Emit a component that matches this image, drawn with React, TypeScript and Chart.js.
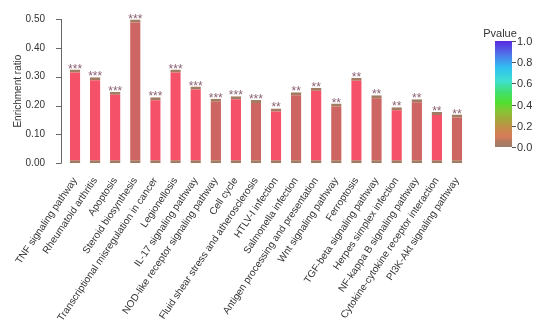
import React, { useEffect, useRef } from "react";
import { Chart, registerables } from "chart.js";
Chart.register(...registerables);

const categories = [
  "TNF signaling pathway",
  "Rheumatoid arthritis",
  "Apoptosis",
  "Steroid biosynthesis",
  "Transcriptional misregulation in cancer",
  "Legionellosis",
  "IL-17 signaling pathway",
  "NOD-like receptor signaling pathway",
  "Cell cycle",
  "Fluid shear stress and atherosclerosis",
  "HTLV-I infection",
  "Salmonella infection",
  "Antigen processing and presentation",
  "Wnt signaling pathway",
  "Ferroptosis",
  "TGF-beta signaling pathway",
  "Herpes simplex infection",
  "NF-kappa B signaling pathway",
  "Cytokine-cytokine receptor interaction",
  "PI3K-Akt signaling pathway",
];

const enrichmentRatio = [
  0.325, 0.298, 0.248, 0.498, 0.229, 0.325, 0.266, 0.224, 0.232, 0.219,
  0.19, 0.246, 0.262, 0.207, 0.296, 0.236, 0.194, 0.222, 0.178, 0.169,
];

const significance = [
  "***", "***", "***", "***", "***", "***", "***", "***", "***", "***",
  "**", "**", "**", "**", "**", "**", "**", "**", "**", "**",
];

const pvalueTicks = [0, 0.2, 0.4, 0.6, 0.8, 1.0];

const BRIGHT = "#F5526A";
const MUTED = "#CD6662";
const barFill = [
  BRIGHT, BRIGHT, BRIGHT, MUTED, BRIGHT, BRIGHT, BRIGHT, MUTED, BRIGHT, MUTED,
  BRIGHT, MUTED, BRIGHT, MUTED, BRIGHT, MUTED, BRIGHT, MUTED, BRIGHT, MUTED,
];

const FONT = "'Liberation Sans', Arial, sans-serif";
const AXIS_X = 61;

const starsPlugin = {
  id: "stars",
  afterDatasetsDraw(chart: any) {
    const ctx = chart.ctx;
    const meta = chart.getDatasetMeta(0);
    ctx.save();
    ctx.font = `12px ${FONT}`;
    ctx.fillStyle = "#8a5f72";
    ctx.textAlign = "center";
    ctx.textBaseline = "alphabetic";
    meta.data.forEach((bar: any, i: number) => {
      ctx.fillText(significance[i], bar.x, bar.y + 3);
    });
    ctx.restore();
  },
};

const yAxisLinePlugin = {
  id: "yAxisLine",
  afterDraw(chart: any) {
    const ctx = chart.ctx;
    const y = chart.scales.y;
    ctx.save();
    ctx.strokeStyle = "#666";
    ctx.lineWidth = 1;
    ctx.beginPath();
    ctx.moveTo(AXIS_X + 0.5, y.getPixelForValue(y.max));
    ctx.lineTo(AXIS_X + 0.5, y.getPixelForValue(y.min));
    y.ticks.forEach((t: any) => {
      const py = Math.round(y.getPixelForValue(t.value)) + 0.5;
      ctx.moveTo(AXIS_X - 5, py);
      ctx.lineTo(AXIS_X + 0.5, py);
    });
    ctx.stroke();
    ctx.restore();
  },
};

const legendPlugin = {
  id: "pvalueLegend",
  afterDraw(chart: any) {
    const ctx = chart.ctx;
    const x0 = 495;
    const w = 17;
    const yTop = 41;
    const yBot = 147;
    ctx.save();
    const g = ctx.createLinearGradient(0, yBot, 0, yTop);
    g.addColorStop(0.0, "#9C7C68");
    g.addColorStop(0.05, "#B07A60");
    g.addColorStop(0.1, "#D87A58");
    g.addColorStop(0.18, "#C48C48");
    g.addColorStop(0.25, "#A8A43C");
    g.addColorStop(0.35, "#80C834");
    g.addColorStop(0.42, "#50E030");
    g.addColorStop(0.52, "#40E070");
    g.addColorStop(0.62, "#40E0D0");
    g.addColorStop(0.75, "#30C0F0");
    g.addColorStop(0.88, "#5070E8");
    g.addColorStop(1.0, "#5A28E0");
    ctx.fillStyle = g;
    ctx.fillRect(x0, yTop, w, yBot - yTop);
    ctx.strokeStyle = "#555";
    ctx.lineWidth = 1;
    ctx.fillStyle = "#333";
    ctx.font = `11px ${FONT}`;
    ctx.textAlign = "left";
    ctx.textBaseline = "middle";
    pvalueTicks.forEach((v) => {
      const y = Math.round(yBot - (yBot - yTop) * v) + 0.5;
      ctx.beginPath();
      ctx.moveTo(x0 + w, y);
      ctx.lineTo(x0 + w + 4, y);
      ctx.stroke();
      ctx.fillText(v.toFixed(1), x0 + w + 5, y);
    });
    ctx.textAlign = "center";
    ctx.textBaseline = "alphabetic";
    ctx.fillText("Pvalue", x0 + 5, 37);
    ctx.restore();
  },
};

export default function App() {
  const ref = useRef<HTMLCanvasElement>(null);
  useEffect(() => {
    if (!ref.current) return;
    Chart.defaults.font.family = FONT;
    const chart = new Chart(ref.current, {
      type: "bar",
      data: {
        labels: categories,
        datasets: [
          {
            data: enrichmentRatio,
            backgroundColor: barFill,
            borderColor: "#A27B63",
            borderWidth: { top: 3, bottom: 3, left: 0, right: 0 },
            borderSkipped: false,
            barPercentage: 0.52,
            categoryPercentage: 1,
          },
        ],
      },
      options: {
        animation: false,
        responsive: false,
        maintainAspectRatio: false,
        layout: { padding: { top: 19, right: 83, left: 0, bottom: 0 } },
        plugins: { legend: { display: false }, tooltip: { enabled: false } },
        scales: {
          x: {
            grid: { display: false },
            border: { display: false },
            ticks: {
              autoSkip: false,
              minRotation: 56,
              maxRotation: 56,
              padding: 4,
              color: "#333",
              font: { size: 10, family: FONT },
            },
            afterFit: (s: any) => {
              s.height = 167.7;
            },
          },
          y: {
            min: 0,
            max: 0.5,
            grid: { display: false },
            border: { display: false },
            ticks: {
              stepSize: 0.05,
              padding: 12,
              color: "#333",
              font: { size: 10, family: FONT },
              callback: (v: any) => Number(v).toFixed(2),
            },
            title: {
              display: true,
              text: "Enrichment ratio",
              color: "#333",
              font: { size: 10, family: FONT },
              padding: { top: 12, bottom: 4 },
            },
            afterFit: (s: any) => {
              s.width = 65;
            },
          },
        },
      },
      plugins: [starsPlugin, yAxisLinePlugin, legendPlugin],
    });
    return () => chart.destroy();
  }, []);
  return (
    <div style={{ position: "fixed", left: 0, top: 0, width: 550, height: 331, background: "#fff" }}>
      <canvas ref={ref} width={550} height={331} style={{ width: 550, height: 331, display: "block" }} />
    </div>
  );
}
